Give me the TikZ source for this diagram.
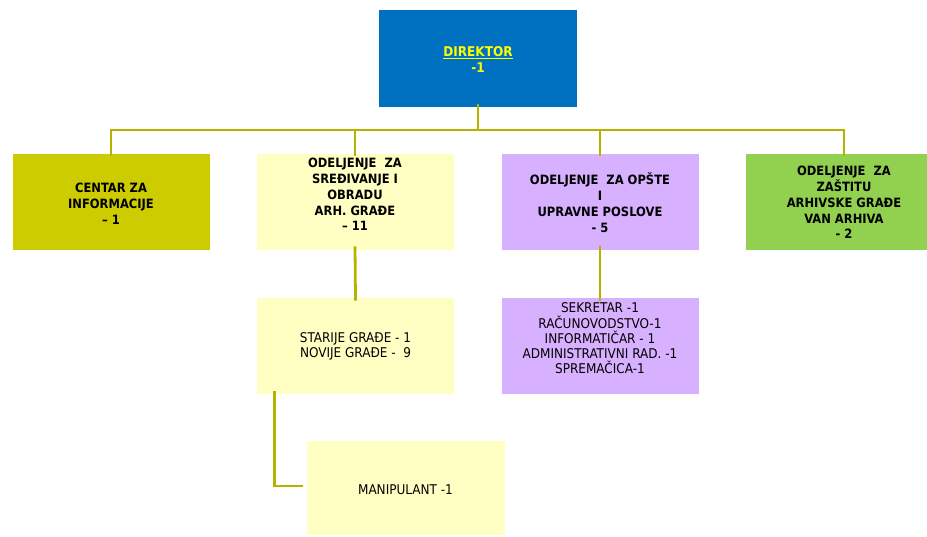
\documentclass[tikz,border=0pt]{standalone}
\usepackage{fontspec}
\setmainfont{DejaVu Sans Condensed}
\definecolor{dirblue}{HTML}{0070C0}
\definecolor{diryellow}{HTML}{FFFF00}
\definecolor{olive}{HTML}{CCCC00}
\definecolor{lightyel}{HTML}{FFFFC3}
\definecolor{lav}{HTML}{D7B1FF}
\definecolor{grn}{HTML}{92D050}
\definecolor{conncol}{HTML}{B5B300}
\begin{document}
\begin{tikzpicture}[x=1pt,y=-1pt,
  box/.style={draw=white,line width=0.6pt,minimum width=198pt,minimum height=97pt,inner sep=0pt},
  btext/.style={inner sep=0pt,align=center,font=\fontsize{12.8}{15.8}\selectfont\bfseries},
  stext/.style={inner sep=0pt,align=center,font=\fontsize{13.4}{15.3}\selectfont},
  conn/.style={draw=conncol,line width=2.8pt}]
\useasboundingbox (0,0) rectangle (927,536);
\clip (0,0) rectangle (927,536);
% boxes
\node[box,fill=dirblue,minimum width=199pt,minimum height=98pt] (dir) at (478,58) {};
\node[box,fill=olive] (b1) at (111,201.5) {};
\node[box,fill=lightyel] (b2) at (355,201.5) {};
\node[box,fill=lav] (b3) at (600,201.5) {};
\node[box,fill=grn] (b4) at (844,201.5) {};
\node[box,fill=lightyel] (b2a) at (355.5,345.5) {};
\node[box,fill=lav] (b3a) at (600,345.5) {};
\node[box,fill=lightyel,minimum width=199pt,minimum height=95pt] (b5) at (405.5,487.5) {};
% texts
\node[btext,text=diryellow,font=\fontsize{13.4}{16}\selectfont\bfseries] (dirt) at ([yshift=-2pt]dir.center) {\underline{DIREKTOR}\\-1};
\node[btext] (b1t) at ([yshift=-2pt]b1.center) {CENTAR ZA\\INFORMACIJE\\– 1};
\node[btext] (b2t) at ([yshift=7pt]b2.center) {ODELJENJE\ \ ZA\\SREĐIVANJE I\\OBRADU\\ARH. GRAĐE\\– 11};
\node[btext] (b3t) at ([yshift=-1pt]b3.center) {ODELJENJE\ \ ZA OPŠTE\\I\\UPRAVNE POSLOVE\\- 5};
\node[btext] (b4t) at ([yshift=-1pt]b4.center) {ODELJENJE\ \ ZA\\ZAŠTITU\\ARHIVSKE GRAĐE\\VAN ARHIVA\\- 2};
\node[stext] (b2at) at ([yshift=-1pt]b2a.center) {STARIJE GRAĐE - 1\\NOVIJE GRAĐE -\ \ 9};
\node[stext] (b3at) at ([yshift=7pt]b3a.center) {SEKRETAR -1\\RAČUNOVODSTVO-1\\INFORMATIČAR - 1\\ADMINISTRATIVNI RAD. -1\\SPREMAČICA-1};
\node[stext] (b5t) at ([yshift=-2pt]b5.center) {MANIPULANT -1};
% connectors
\coordinate (bus) at (0,130);
\draw[conn] ([yshift=3pt]dir.south) -- (dir.south |- bus);
\draw[conn] ([xshift=-1.4pt]b1.north |- bus) -- ([xshift=1.4pt]b4.north |- bus);
\foreach \b in {b1,b2,b3,b4}{
  \draw[conn] (\b.north |- bus) -- ([yshift=-3pt]\b.north);
}
\draw[conn] ([yshift=4pt]b2.south) -- ([yshift=-4pt]b2a.north);
\draw[conn] ([yshift=4pt]b3.south) -- ([yshift=-4pt]b3a.north);
\draw[conn] ([xshift=18pt,yshift=3pt]b2a.south west) |- ([xshift=-3pt,yshift=1.5pt]b5.west);
\end{tikzpicture}
\end{document}
